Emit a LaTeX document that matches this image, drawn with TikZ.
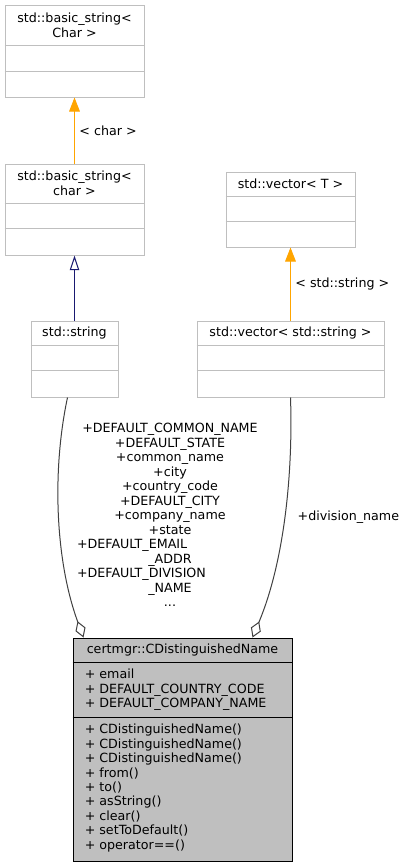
\documentclass[tikz,border=0pt]{standalone}
\usepackage{fontspec}
\setmainfont{DejaVu Sans}
\usetikzlibrary{arrows.meta,fit,calc}

\definecolor{boxgray}{HTML}{BFBFBF}
\definecolor{tplorange}{HTML}{FFA500}
\definecolor{inhblue}{HTML}{191970}
\definecolor{aggrgray}{HTML}{404040}

\tikzset{
	clsbox/.style={draw=boxgray, line width=0.75pt, inner sep=0pt},
	mainbox/.style={draw=black, fill=boxgray, line width=0.75pt, inner sep=0pt},
	member/.style={anchor=base west, inner sep=0pt},
	tpledge/.style={draw=tplorange, line width=0.75pt, -{Triangle[length=10.5pt, width=8pt]}},
	inhedge/.style={draw=inhblue, line width=0.75pt, -{Triangle[open, length=11pt, width=7pt]}},
	aggredge/.style={draw=aggrgray, line width=0.75pt, -{Diamond[open, length=13pt, width=8pt]}}
}

\begin{document}
\begin{tikzpicture}[x=0.75pt, y=-0.75pt, font=\fontsize{9.5}{10.85}\selectfont]
	\fill[white, use as bounding box] (0,0) rectangle (407,867);
	% Các hộp lớp (viền xám)
	\node[clsbox, fit={(5,6) (144,97)}] (bsTpl) {};
	\node[clsbox, fit={(5,164) (144,255)}] (bsChar) {};
	\node[clsbox, fit={(226,172) (355,247)}] (vecTpl) {};
	\node[clsbox, fit={(197,321) (384,397)}] (vecStr) {};
	\node[clsbox, fit={(31,321) (118,397)}] (stdStr) {};
	\node[mainbox, fit={(73,638) (292,861)}] (dn) {};
	% Đường ngăn trong hộp
	\foreach \b/\ya/\yb in {bsTpl/40/66, bsChar/40/65, vecTpl/25/50, vecStr/25/50, stdStr/25/50} {
		\draw[boxgray, line width=0.75pt] ($(\b.north west)+(0,\ya)$) -- ($(\b.north east)+(0,\ya)$);
		\draw[boxgray, line width=0.75pt] ($(\b.north west)+(0,\yb)$) -- ($(\b.north east)+(0,\yb)$);
	}
	\draw[line width=0.75pt] ($(dn.north west)+(0,25)$) -- ($(dn.north east)+(0,25)$);
	\draw[line width=0.75pt] ($(dn.north west)+(0,80)$) -- ($(dn.north east)+(0,80)$);
	% Tên lớp
	\node[align=center] (bsTplName) at ($(bsTpl.north)+(0,20)$) {std::basic\_string<\\Char >};
	\node[align=center] (bsCharName) at ($(bsChar.north)+(0,20)$) {std::basic\_string<\\char >};
	\node (vecTplName) at ($(vecTpl.north)+(0,12.5)$) {std::vector< T >};
	\node (vecStrName) at ($(vecStr.north)+(0,12.5)$) {std::vector< std::string >};
	\node (stdStrName) at ($(stdStr.north)+(0,12.5)$) {std::string};
	\node (dnName) at ($(dn.north)+(0,12.5)$) {certmgr::CDistinguishedName};
	% Thuộc tính và phương thức
	\foreach \a [count=\i from 0] in {email, DEFAULT\_COUNTRY\_CODE, DEFAULT\_COMPANY\_NAME}
		\node[member] (dnAttr\i) at ($(dn.north west)+(12,{41.3+14.45*\i})$) {+ \a};
	\foreach \m [count=\i from 0] in {CDistinguishedName(), CDistinguishedName(), CDistinguishedName(),
		from(), to(), asString(), clear(), setToDefault(), operator==()}
		\node[member] (dnOp\i) at ($(dn.north west)+(12,{96.3+14.4*\i})$) {+ \m};
	% Cạnh mẫu và kế thừa
	\draw[tpledge] (bsChar) -- node[right, text=black] (tplCharLbl) {< char >} (bsTpl);
	\draw[tpledge] (vecStr) -- node[right, text=black] (tplStrLbl) {< std::string >} (vecTpl);
	\draw[inhedge] (stdStr) -- (bsChar);
	% Cạnh thành phần (hình thoi)
	\draw[aggredge] ($(stdStr.south)+(-7,0)$) .. controls (52,470) and (55,560) .. ($(dn.north west)+(11,0)$);
	\draw[aggredge] (vecStr.south) .. controls (293,470) and (285,560) .. ($(dn.north west)+(180,0)$);
	\node[align=center] (strRoles) at (170,515) {+DEFAULT\_COMMON\_NAME\\+DEFAULT\_STATE\\+common\_name\\+city\\+country\_code\\+DEFAULT\_CITY\\+company\_name\\+state\\\makebox[139.5pt][l]{+DEFAULT\_EMAIL}\\\_ADDR\\\makebox[139.5pt][l]{+DEFAULT\_DIVISION}\\\_NAME\\...};
	\node[anchor=base west] (vecRole) at (293,520.5) {+division\_name};
\end{tikzpicture}
\end{document}
